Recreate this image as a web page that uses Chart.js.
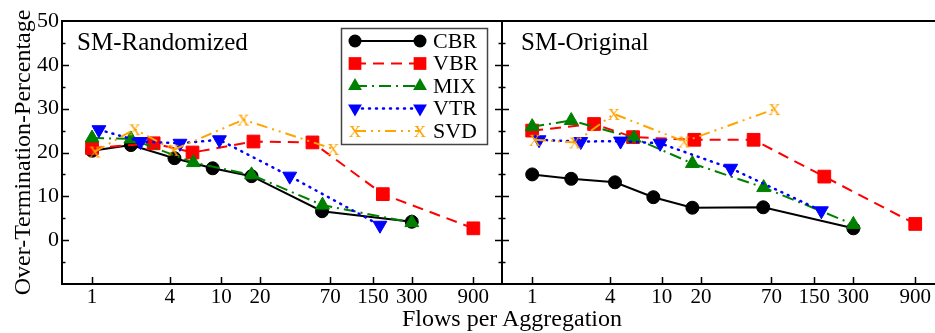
<!DOCTYPE html>
<html>
<head>
<meta charset="utf-8">
<script src="https://cdn.jsdelivr.net/npm/chart.js@4.4.0/dist/chart.umd.min.js"></script>
<style>
    html, body { margin: 0; padding: 0; background: #fff; overflow: hidden; }
    #wrap { position: relative; width: 935px; height: 333px; overflow: hidden; }
    #leftBox { position: absolute; left: 0; top: 0; width: 504px; height: 333px; }
    #rightBox { position: absolute; left: 490px; top: 0; width: 456px; height: 333px; }
    #xTitle { position: absolute; left: 312px; width: 400px; top: 306px; text-align: center;
              font: 24px "Liberation Serif"; line-height: 24px; color: #000; }
</style>
</head>
<body>
<div id="wrap">
    <div id="leftBox"><canvas id="leftChart"></canvas></div>
    <div id="rightBox"><canvas id="rightChart"></canvas></div>
    <div id="xTitle">Flows per Aggregation</div>
</div>
<script>
// Axis ticks
const xTicks = [1, 4, 10, 20, 70, 150, 300, 900];
const panelTitles = ['SM-Randomized', 'SM-Original'];
const seriesNames = ['CBR', 'VBR', 'MIX', 'VTR', 'SVD'];

// Flows per aggregation (x) for each series
const cbrFlows = [1, 2, 4.35, 8.6, 17.2, 60.5, 300];
const vbrFlows = [1, 3, 6, 17.8, 51, 179, 900];
const mixFlows = [1, 2, 6.1, 17.2, 61, 300];
const vtrFlows = [1.13, 2.37, 4.8, 9.7, 34, 170];
const svdFlows = [1.05, 2.14, 4.27, 14.9, 74];

// SM-Randomized values
const randCBR = [20.4, 21.7, 18.7, 16.4, 14.6, 6.6, 4.2];
const randVBR = [21.0, 22.1, 20.0, 22.5, 22.3, 10.5, 2.7];
const randMIX = [23.3, 23.1, 17.7, 14.9, 8.0, 4.0];
const randVTR = [25.2, 22.5, 22.1, 22.9, 14.6, 3.4];
const randSVD = [20.2, 25.3, 20.6, 27.5, 20.8];

// SM-Original values
const origCBR = [15.0, 14.0, 13.2, 9.8, 7.4, 7.5, 2.7];
const origVBR = [25.0, 26.5, 23.5, 22.9, 22.9, 14.5, 3.7];
const origMIX = [25.9, 27.3, 23.3, 17.5, 12.0, 3.6];
const origVTR = [22.9, 22.5, 22.6, 22.1, 16.4, 6.7];
const origSVD = [22.9, 22.3, 28.8, 22.5, 29.9];

const flows = [cbrFlows, vbrFlows, mixFlows, vtrFlows, svdFlows];
const FONT = 'Liberation Serif';

// orange "X" glyph used as marker
const xMark = document.createElement('canvas');
xMark.width = 16;
xMark.height = 16;
(function () {
    const c = xMark.getContext('2d');
    c.fillStyle = '#ffa500';
    c.font = '17px "' + FONT + '"';
    c.textAlign = 'center';
    c.textBaseline = 'alphabetic';
    c.fillText('X', 8, 13.6);
})();

const styles = [
    { color: '#000000', dash: [], point: 'circle', radius: 6.5 },
    { color: '#ff0000', dash: [11, 7], point: 'rect', radius: 9 },
    { color: '#008000', dash: [12, 5, 2, 5], point: 'triangle', radius: 8 },
    { color: '#0000ff', dash: [1, 6], point: 'triangle', radius: 8, rotation: 180, cap: 'round', width: 2.5 },
    { color: '#ffa500', dash: [11, 5, 2, 5, 2, 5], point: xMark, radius: 8 }
];

function makeSets(values) {
    return seriesNames.map(function (name, i) {
        const st = styles[i];
        return {
            label: name,
            data: flows[i].map(function (f, j) { return { x: f, y: values[i][j] }; }),
            borderColor: st.color,
            backgroundColor: st.color,
            borderWidth: st.width || 2,
            borderDash: st.dash,
            borderCapStyle: st.cap || 'butt',
            pointStyle: st.point,
            pointRadius: st.radius,
            pointHoverRadius: st.radius,
            pointRotation: st.rotation || 0,
            pointBackgroundColor: st.color,
            pointBorderColor: st.color,
            pointBorderWidth: 1,
            tension: 0,
            order: 5 - i,
            clip: false
        };
    });
}

function drawMarker(ctx, st, x, y) {
    if (st.point instanceof HTMLCanvasElement) {
        ctx.drawImage(st.point, x - st.point.width / 2, y - st.point.height / 2);
        return;
    }
    ctx.fillStyle = st.color;
    ctx.beginPath();
    if (st.point === 'circle') {
        ctx.arc(x, y, st.radius, 0, Math.PI * 2);
    } else if (st.point === 'rect') {
        const h = st.radius * Math.SQRT1_2;
        ctx.rect(x - h, y - h, 2 * h, 2 * h);
    } else {
        const r = st.radius, s = st.rotation ? -1 : 1;
        ctx.moveTo(x, y - s * r);
        ctx.lineTo(x + r * 0.866, y + s * r / 2);
        ctx.lineTo(x - r * 0.866, y + s * r / 2);
        ctx.closePath();
    }
    ctx.fill();
}

// Frame, inward ticks, panel title and legend
const framePlugin = {
    id: 'frame',
    afterDatasetsDraw(chart) {
        const ctx = chart.ctx, a = chart.chartArea;
        const xs = chart.scales.x, ys = chart.scales.y;
        const isLeft = chart.canvas.id === 'leftChart';
        ctx.save();
        ctx.setLineDash([]);
        ctx.strokeStyle = '#000';
        ctx.lineWidth = 1.5;
        ctx.beginPath();
        for (let v = -5; v < 50; v += 5) {
            const py = Math.round(ys.getPixelForValue(v)) + 0.5;
            const len = v % 10 === 0 ? 7 : 3.5;
            ctx.moveTo(a.left, py); ctx.lineTo(a.left + len, py);
            if (isLeft) { ctx.moveTo(a.right, py); ctx.lineTo(a.right - len, py); }
        }
        xTicks.forEach(function (t) {
            const px = Math.round(xs.getPixelForValue(t)) + 0.5;
            ctx.moveTo(px, a.bottom); ctx.lineTo(px, a.bottom - 7);
        });
        ctx.stroke();
        ctx.lineWidth = 2;
        ctx.strokeRect(a.left, a.top, a.right - a.left, a.bottom - a.top);

        ctx.fillStyle = '#000';
        ctx.font = '25px "' + FONT + '"';
        ctx.textBaseline = 'alphabetic';
        ctx.fillText(isLeft ? panelTitles[0] : panelTitles[1], a.left + (isLeft ? 15 : 19), 50);

        if (isLeft) {
            ctx.lineWidth = 1.5;
            ctx.strokeStyle = '#444';
            ctx.strokeRect(341.5, 28.5, 146, 116);
            const rows = [41, 63.5, 86, 108.5, 131];
            ctx.font = '22px "' + FONT + '"';
            ctx.textBaseline = 'middle';
            styles.forEach(function (st, i) {
                const y = rows[i];
                ctx.strokeStyle = st.color;
                ctx.lineWidth = st.width || 2;
                ctx.lineCap = st.cap || 'butt';
                ctx.setLineDash(st.dash);
                ctx.beginPath();
                ctx.moveTo(355, y); ctx.lineTo(420, y);
                ctx.stroke();
                ctx.setLineDash([]);
                drawMarker(ctx, st, 355, y);
                drawMarker(ctx, st, 420, y);
                ctx.fillStyle = '#000';
                ctx.fillText(seriesNames[i], 433, y + 1);
            });
        }
        ctx.restore();
    }
};

function makeOptions(showY) {
    return {
        responsive: true,
        maintainAspectRatio: false,
        animation: false,
        layout: { autoPadding: false, padding: { left: 0, top: 21, right: 2, bottom: 0 } },
        plugins: { legend: { display: false }, tooltip: { enabled: false } },
        scales: {
            x: {
                type: 'logarithmic',
                min: 0.585,
                max: 1500,
                afterBuildTicks: function (s) { s.ticks = xTicks.map(function (v) { return { value: v }; }); },
                afterFit: function (s) { s.height = 49; s.paddingLeft = 0; s.paddingRight = 0; },
                ticks: {
                    autoSkip: false, maxRotation: 0, padding: 1, color: '#000',
                    font: { family: FONT, size: 21 },
                    callback: function (v) { return String(v); }
                },
                grid: { display: false, drawTicks: false },
                border: { display: false }
            },
            y: {
                min: -10,
                max: 50,
                afterFit: function (s) { s.width = showY ? 62 : 12; s.paddingTop = 0; s.paddingBottom = 0; },
                ticks: {
                    display: showY, stepSize: 5, padding: 3, color: '#000',
                    font: { family: FONT, size: 22 },
                    callback: function (v) { return (v >= 0 && v % 10 === 0) ? String(v) : ''; }
                },
                title: {
                    display: showY, text: 'Over-Termination-Percentage', color: '#000',
                    font: { family: FONT, size: 24 }, padding: { top: 9, bottom: 0 }
                },
                grid: { display: false, drawTicks: false },
                border: { display: false }
            }
        }
    };
}

new Chart(document.getElementById('leftChart'), {
    type: 'line',
    data: { datasets: makeSets([randCBR, randVBR, randMIX, randVTR, randSVD]) },
    options: makeOptions(true),
    plugins: [framePlugin]
});

new Chart(document.getElementById('rightChart'), {
    type: 'line',
    data: { datasets: makeSets([origCBR, origVBR, origMIX, origVTR, origSVD]) },
    options: makeOptions(false),
    plugins: [framePlugin]
});
</script>
</body>
</html>
